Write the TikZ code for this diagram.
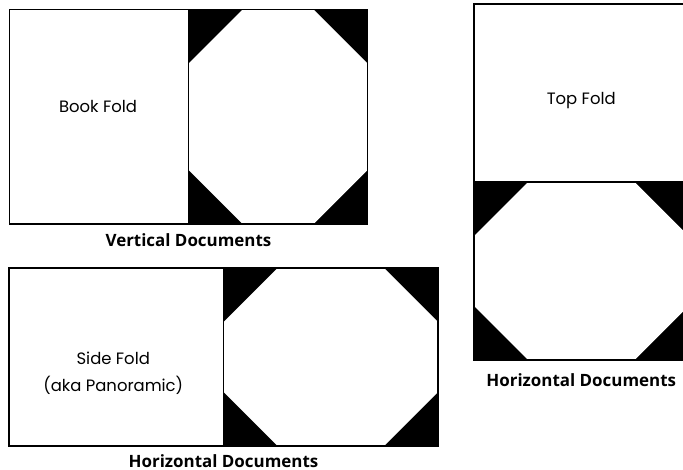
\documentclass[tikz,border=0pt]{standalone}
\usepackage{fontspec}
\newfontfamily\foldfont{Poppins}
\newfontfamily\capfont{Open Sans}
\usetikzlibrary{positioning}

\tikzset{
  panel/.style={draw=black, line width=1.6bp, inner sep=0pt, outer sep=0pt},
  vdoc/.style={panel, minimum width=179bp, minimum height=214.5bp},
  hdoc/.style={panel, minimum width=214.5bp, minimum height=178bp},
  foldtext/.style={font=\foldfont\fontsize{16.5}{27}\selectfont, align=center},
  doccaption/.style={font=\capfont\bfseries\fontsize{17}{20}\selectfont, inner sep=0pt}
}

% white octagon on the black half, #1 = node, #2 = corner cut
\newcommand{\foldout}[2]{%
  \fill[white] ([xshift=#2]#1.north west) -- ([xshift=-#2]#1.north east)
    -- ([yshift=-#2]#1.north east) -- ([yshift=#2]#1.south east)
    -- ([xshift=-#2]#1.south east) -- ([xshift=#2]#1.south west)
    -- ([yshift=#2]#1.south west) -- ([yshift=-#2]#1.north west) -- cycle;
  \draw[panel] (#1.north west) rectangle (#1.south east);
}

\begin{document}
\begin{tikzpicture}[x=1bp, y=-1bp]
  \useasboundingbox (0,0) rectangle (683,470);

  % vertical documents
  \node[vdoc, anchor=north west] (book) at (9.5,9.5) {};
  \node[vdoc, fill=black, right=0pt of book] (bookopen) {};
  \foldout{bookopen}{54bp}
  \node[foldtext] (booktext) at ([xshift=-1bp,yshift=10bp]book.center) {Book Fold};
  \node[doccaption, below=9bp of book.south east] (vcap) {Vertical Documents};

  % horizontal documents, side fold
  \node[hdoc, anchor=north west] (side) at (9,268) {};
  \node[hdoc, fill=black, right=0pt of side] (sideopen) {};
  \foldout{sideopen}{54bp}
  \node[foldtext] (sidetext) at ([xshift=-3bp,yshift=-16bp]side.center) {Side Fold\\(aka Panoramic)};
  \node[doccaption, below=8bp of side.south east] (hcap) {Horizontal Documents};

  % horizontal documents, top fold
  \node[hdoc, anchor=north west] (top) at (474,4) {};
  \node[hdoc, fill=black, below=0pt of top] (topopen) {};
  \foldout{topopen}{54bp}
  \node[foldtext] (toptext) at ([yshift=-8bp]top.center) {Top Fold};
  \node[doccaption, below=13bp of topopen.south] (tcap) {Horizontal Documents};
\end{tikzpicture}
\end{document}
